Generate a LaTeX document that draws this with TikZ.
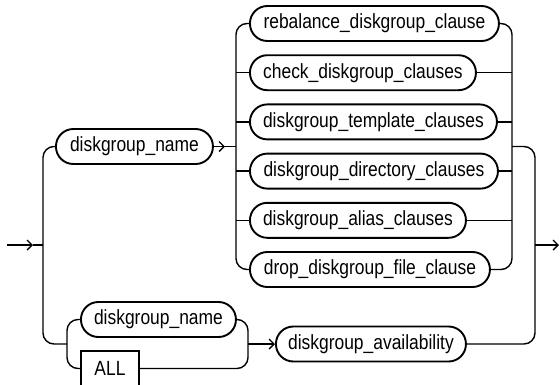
\documentclass[tikz,border=0pt]{standalone}
\usepackage{fontspec}
\setmainfont[FakeStretch=0.85]{Liberation Sans}
\usetikzlibrary{arrows.meta}
\begin{document}
\begin{tikzpicture}[x=1pt,y=-1pt,
  term/.style={draw, line width=1.9pt, rounded corners=17.4pt, minimum height=35pt,
    inner sep=0pt, anchor=west, font=\fontsize{20.5}{24}\selectfont},
  kw/.style={draw, line width=1.9pt, minimum height=35pt, inner sep=0pt, anchor=west,
    font=\fontsize{20.5}{24}\selectfont},
  conn/.style={line width=1.4pt, rounded corners=11pt},
  arr/.style={line width=1.4pt, -{Straight Barb[length=5pt,width=10pt,line width=1.4pt]}}]
\clip (0,0) rectangle (560,384);

% top branch
\node[term, minimum width=157pt] (dn1) at (55,146.5) {diskgroup\_name};
\node[term, minimum width=249pt] (reb) at (249,23.5) {rebalance\_diskgroup\_clause};
\node[term, minimum width=226pt] (chk) at (249,72.7) {check\_diskgroup\_clauses};
\node[term, minimum width=247pt] (tpl) at (249,121.9) {diskgroup\_template\_clauses};
\node[term, minimum width=248pt] (dir) at (249,171.1) {diskgroup\_directory\_clauses};
\node[term, minimum width=216pt] (ali) at (249,220.3) {diskgroup\_alias\_clauses};
\node[term, minimum width=240pt] (drp) at (249,269.5) {drop\_diskgroup\_file\_clause};

% bottom branch
\node[term, minimum width=155pt] (dn2) at (80,319.5) {diskgroup\_name};
\node[kw, minimum width=58pt] (all) at (80,368.5) {ALL};
\node[term, minimum width=190pt] (avl) at (275,344) {diskgroup\_availability};

% junction coordinates
\coordinate (in) at (7,245);
\coordinate (inT) at (33,245);
\coordinate (L) at (43,245);
\coordinate (LT) at (43,146.5);
\coordinate (LB) at (43,344);
\coordinate (IB) at (67,344);
\coordinate (dnT) at (225,146.5);
\coordinate (C) at (236,146.5);
\coordinate (R) at (512,146.5);
\coordinate (FR) at (535,245);
\coordinate (out) at (559,245);
\coordinate (M) at (248,344);

% entry
\draw[arr] (in) -- (inT);
\draw[conn] (inT) -- (L);
\draw[conn] (dn1.west) -- (LT) -- (LB) -- (IB);
\draw[conn] (dn2.west) -| (IB) |- (all.west);

% top choice
\draw[arr] (dn1.east) -- (dnT);
\draw[conn] (dnT) -- (C);
\draw[conn] (reb.west) -| (C) |- (drp.west);
\draw[conn] (C |- chk.west) -- (chk.west);
\draw[conn] (C |- tpl.west) -- (tpl.west);
\draw[conn] (C |- dir.west) -- (dir.west);
\draw[conn] (C |- ali.west) -- (ali.west);

\draw[conn] (reb.east) -| (R) |- (drp.east);
\draw[conn] (chk.east) -- (R |- chk.east);
\draw[conn] (tpl.east) -- (R |- tpl.east);
\draw[conn] (dir.east) -- (R |- dir.east);
\draw[conn] (ali.east) -- (R |- ali.east);

% bottom merge
\draw[conn] (dn2.east) -| (M) |- (all.east);
\draw[arr] (M) -- (avl.west);

% far right
\draw[conn] (R) -| (FR) |- (avl.east);
\draw[arr] (FR) -- (out);
\end{tikzpicture}
\end{document}
